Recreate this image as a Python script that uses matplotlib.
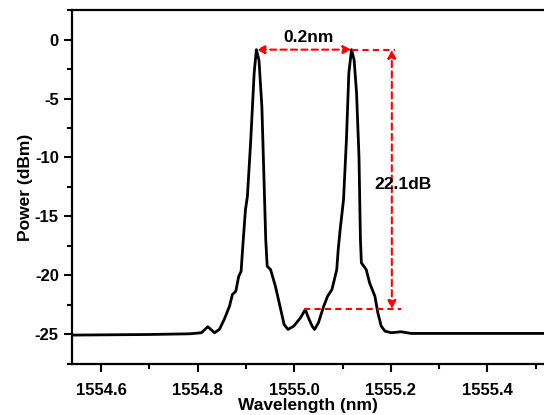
import matplotlib
matplotlib.use("Agg")
import matplotlib.pyplot as plt
from matplotlib.ticker import MultipleLocator

# spectrum trace (wavelength in nm, power in dBm)
wavelength = [
    1554.54, 1554.70, 1554.784, 1554.808, 1554.821, 1554.835, 1554.845, 1554.855,
    1554.866, 1554.872, 1554.879, 1554.885, 1554.890, 1554.893, 1554.899, 1554.903,
    1554.910, 1554.917, 1554.9216, 1554.927, 1554.933, 1554.937, 1554.941, 1554.944,
    1554.951, 1554.961, 1554.972, 1554.979, 1554.987, 1554.999, 1555.013, 1555.023,
    1555.028, 1555.037, 1555.042, 1555.050, 1555.061, 1555.069, 1555.078, 1555.083,
    1555.088, 1555.091, 1555.095, 1555.102, 1555.108, 1555.113, 1555.1186, 1555.124,
    1555.129, 1555.134, 1555.137, 1555.139, 1555.149, 1555.156, 1555.167, 1555.173,
    1555.180, 1555.188, 1555.201, 1555.221, 1555.242, 1555.52,
]
power = [
    -25.05, -25.00, -24.94, -24.85, -24.34, -24.85, -24.57, -23.73,
    -22.60, -21.61, -21.34, -20.07, -19.65, -17.81, -14.43, -13.31,
    -8.51, -2.85, -0.86, -1.75, -5.70, -11.30, -16.97, -19.22,
    -19.50, -20.91, -22.88, -24.15, -24.57, -24.29, -23.58, -22.88,
    -23.45, -24.29, -24.57, -24.01, -22.60, -21.76, -21.19, -20.35,
    -19.50, -17.81, -16.12, -13.58, -8.51, -2.85, -0.86, -1.75,
    -4.54, -9.92, -16.97, -18.93, -19.50, -20.63, -21.76, -23.16,
    -24.29, -24.72, -24.85, -24.77, -24.91, -24.91,
]

peak_wl = [1554.9216, 1555.1186]
peak_db = -0.86
floor_db = -22.85
marker_wl = 1555.202
top_line_end = 1555.208
floor_line = [1555.02, 1555.222]

plt.rcParams["font.family"] = ["Liberation Sans", "DejaVu Sans"]
plt.rcParams["font.weight"] = "bold"
plt.rcParams["axes.unicode_minus"] = False

fig = plt.figure(figsize=(5.44, 4.15), dpi=100)
ax = fig.add_axes([0.1324, 0.1229, 0.8676, 0.8530])

ax.plot(wavelength, power, color="black", lw=2, solid_joinstyle="round")

red = "#ff0000"
dash = dict(color=red, lw=1.5, ls=(0, (3, 2)))

# 0.2 nm spacing arrow
ax.annotate("", xy=(peak_wl[0], peak_db), xytext=(peak_wl[1], peak_db),
            arrowprops=dict(arrowstyle="<|-|>", color=red, lw=1.5, ls=(0, (3, 2)),
                            mutation_scale=12, shrinkA=0, shrinkB=0))
ax.plot([peak_wl[1], top_line_end], [peak_db, peak_db], **dash)

# 22.1 dB contrast arrow
ax.annotate("", xy=(marker_wl, peak_db), xytext=(marker_wl, floor_db),
            arrowprops=dict(arrowstyle="<|-|>", color=red, lw=1.5, ls=(0, (3, 2)),
                            mutation_scale=12, shrinkA=0, shrinkB=0))
ax.plot(floor_line, [floor_db, floor_db], **dash)

ax.text(1555.03, 0.15, "0.2nm", ha="center", va="center", fontsize=12.5, fontweight="bold")
ax.text(1555.226, -12.3, "22.1dB", ha="center", va="center", fontsize=12.5, fontweight="bold")

ax.set_xlim(1554.54, 1555.517)
ax.set_ylim(-27.5, 2.5)
ax.xaxis.set_major_locator(MultipleLocator(0.2))
ax.xaxis.set_minor_locator(MultipleLocator(0.1))
ax.yaxis.set_major_locator(MultipleLocator(5))
ax.yaxis.set_minor_locator(MultipleLocator(2.5))
ax.xaxis.set_major_formatter(plt.FuncFormatter(lambda v, p: f"{v:.1f}"))

ax.spines["right"].set_visible(False)
for s in ["top", "left", "bottom"]:
    ax.spines[s].set_linewidth(1.6)
ax.tick_params(which="major", direction="out", length=5.5, width=1.5, labelsize=12)
ax.tick_params(axis="x", which="major", pad=8)
ax.tick_params(axis="y", which="major", pad=4)
ax.tick_params(which="minor", direction="out", length=3.5, width=1.5)
ax.tick_params(top=False, right=False)
for lab in ax.get_xticklabels() + ax.get_yticklabels():
    lab.set_fontweight("bold")

ax.set_xlabel("Wavelength (nm)", fontsize=12.5, fontweight="bold", labelpad=0)
ax.set_ylabel("Power (dBm)", fontsize=12.5, fontweight="bold", labelpad=1)

fig.savefig("out.png", dpi=100)
